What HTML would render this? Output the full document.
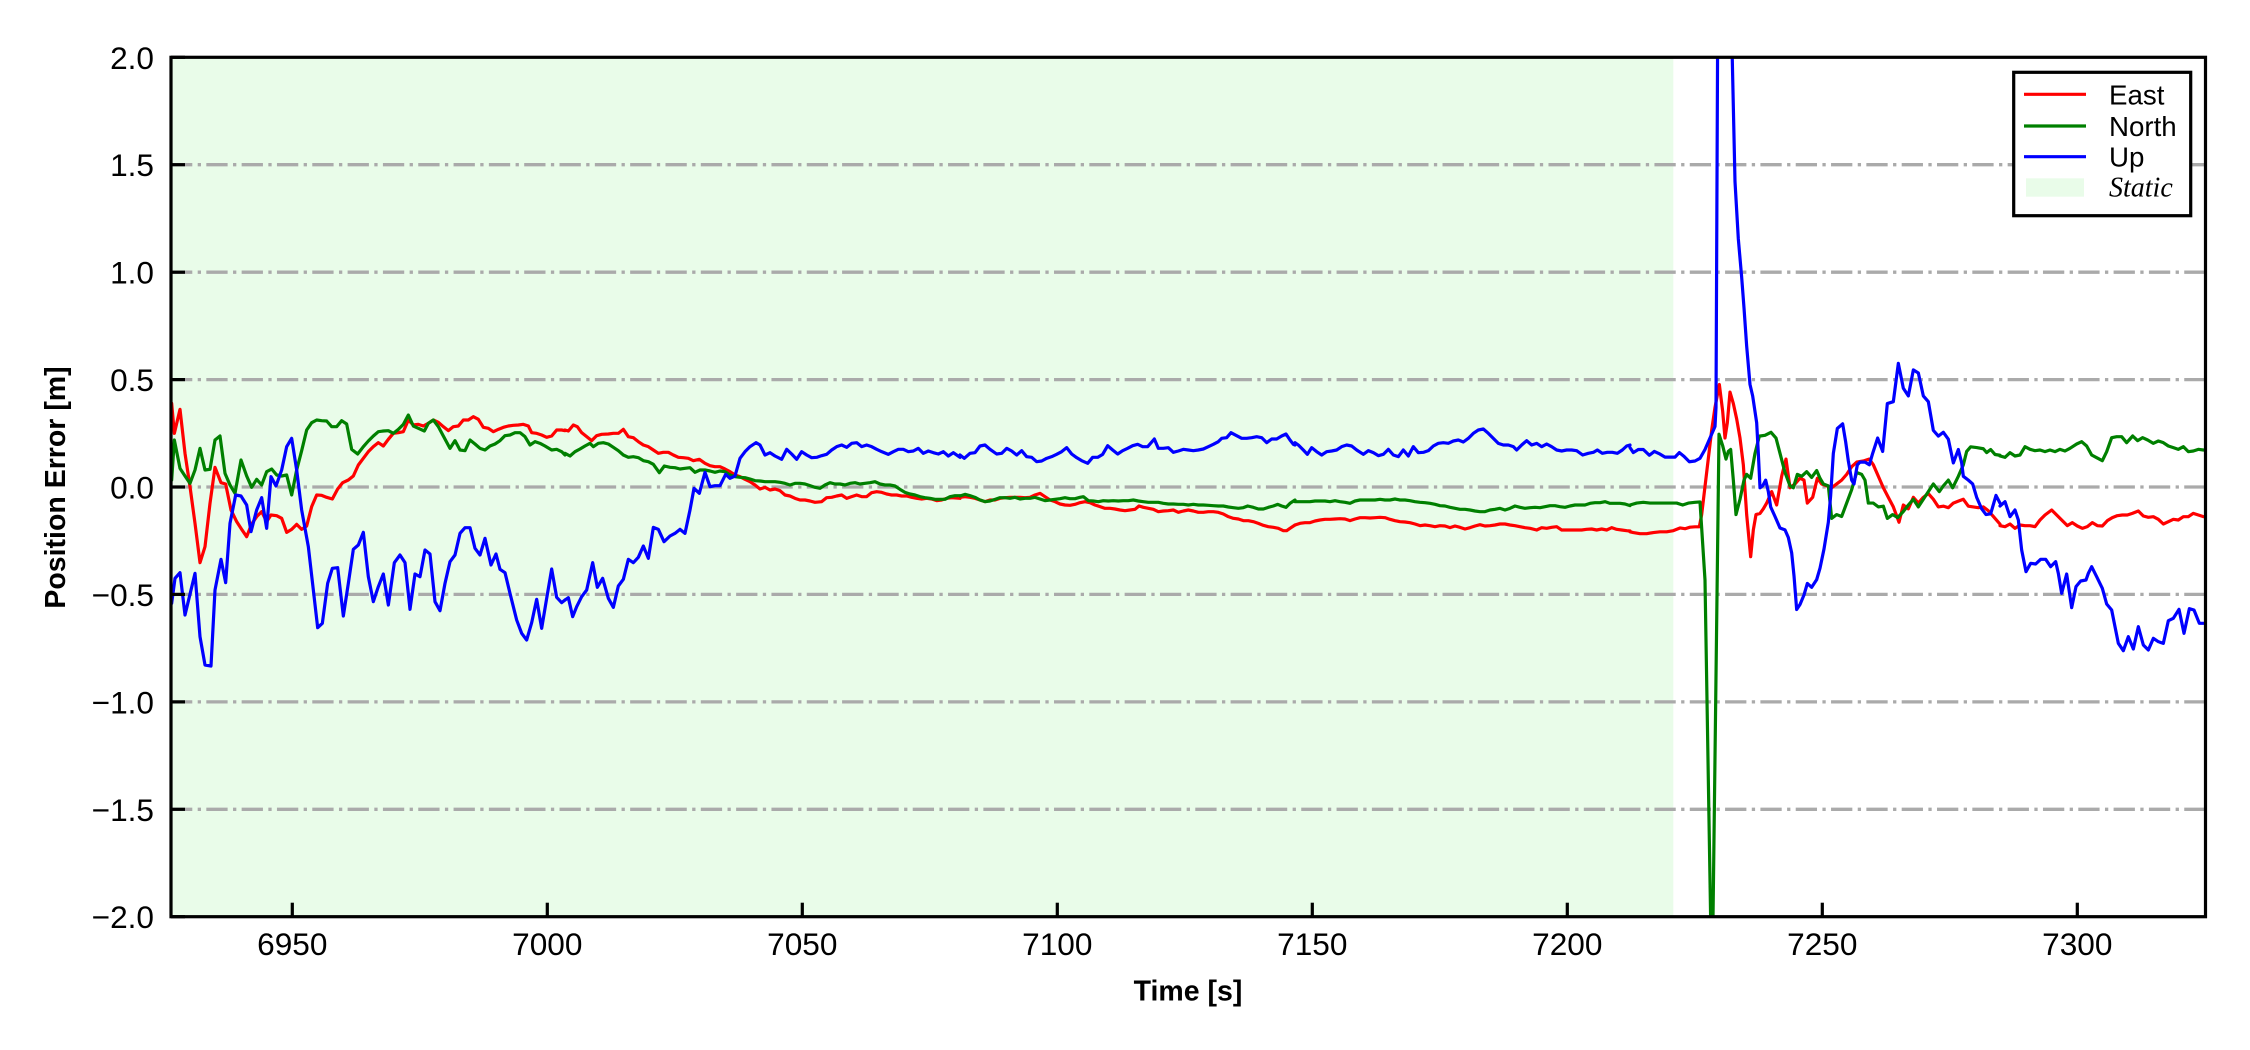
<!DOCTYPE html>
<html>
<head>
<meta charset="utf-8">
<style>
  html, body { margin: 0; padding: 0; background: #ffffff; }
  svg { display: block; }
  .tl { font-family: "Liberation Sans", "DejaVu Sans", sans-serif; font-size: 31.6px; fill: #000; }
  .lab { font-family: "Liberation Sans", "DejaVu Sans", sans-serif; font-size: 28.5px; font-weight: bold; fill: #000; }
  .leg { font-family: "Liberation Sans", "DejaVu Sans", sans-serif; font-size: 27.7px; fill: #000; }
  .legs { font-family: "Liberation Serif", "DejaVu Serif", serif; font-style: italic; font-size: 28px; fill: #000; }
  .r { fill: none; stroke: #ff0000; stroke-width: 3.2; stroke-linejoin: round; stroke-linecap: round; }
  .g { fill: none; stroke: #008000; stroke-width: 3.2; stroke-linejoin: round; stroke-linecap: round; }
  .b { fill: none; stroke: #0000ff; stroke-width: 3.2; stroke-linejoin: round; stroke-linecap: round; }
</style>
</head>
<body>
<svg width="2250" height="1050" viewBox="0 0 2250 1050" xmlns="http://www.w3.org/2000/svg">
  <defs>
    <clipPath id="ax">
      <rect x="171" y="57.3" width="2034.5" height="859.4"/>
    </clipPath>
  </defs>
  <rect x="0" y="0" width="2250" height="1050" fill="#ffffff"/>

  <!-- static region -->
  <rect x="171" y="57.3" width="1502.3" height="859.4" fill="#e9fce9"/>

  <!-- grid lines -->
  <g stroke="#aaaaaa" stroke-width="3.3" stroke-dasharray="21.3 5.4 3.3 5.32" fill="none">
    <line x1="171" y1="164.7" x2="2205.5" y2="164.7"/>
    <line x1="171" y1="272.2" x2="2205.5" y2="272.2"/>
    <line x1="171" y1="379.6" x2="2205.5" y2="379.6"/>
    <line x1="171" y1="487.0" x2="2205.5" y2="487.0"/>
    <line x1="171" y1="594.4" x2="2205.5" y2="594.4"/>
    <line x1="171" y1="701.9" x2="2205.5" y2="701.9"/>
    <line x1="171" y1="809.3" x2="2205.5" y2="809.3"/>
  </g>

  <g clip-path="url(#ax)">
    <!-- Segment 1 : x 165..565 -->
    <g transform="translate(165,370) scale(0.333333)">
      <polyline class="r" vector-effect="non-scaling-stroke" points="20,100 28,190 45,118 60,250 75,350 90,460 105,578 120,530 135,400 150,292 168,338 182,342 198,420 215,455 230,478 245,500 260,462 275,440 290,425 305,455 318,435 335,437 350,445 365,487 380,478 395,463 410,478 425,468 440,410 455,375 470,376 485,382 502,387 518,357 533,338 550,330 565,318 580,285 595,265 610,245 625,230 640,218 655,228 670,208 685,190 700,188 715,185 730,150 745,165 760,163 775,168 790,160 805,150 820,157 835,170 850,182 865,170 880,168 895,150 910,150 925,140 940,148 955,172 970,175 985,185 1000,178 1015,172 1030,168 1045,166 1060,165 1075,163 1090,168 1100,188 1115,190 1130,195 1145,202 1160,198 1175,180 1190,180 1200,182"/>
      <polyline class="g" vector-effect="non-scaling-stroke" points="20,330 28,210 45,295 60,318 75,340 90,300 105,235 120,300 135,298 150,210 165,198 180,310 195,345 210,370 228,270 245,318 260,352 275,328 290,345 305,305 320,297 335,315 350,318 365,315 380,375 395,300 410,242 425,180 440,158 455,150 470,152 485,153 500,170 515,170 530,152 545,162 560,238 578,252 595,230 610,213 625,198 640,185 655,183 670,182 685,190 700,178 715,163 730,135 745,168 760,175 778,183 790,160 805,150 820,170 835,198 855,235 870,212 885,240 900,242 915,210 930,222 945,235 960,240 975,228 990,222 1005,212 1020,197 1035,195 1050,188 1065,188 1080,200 1095,225 1110,215 1125,220 1140,228 1160,240 1175,238 1190,245 1200,255"/>
      <polyline class="b" vector-effect="non-scaling-stroke" points="20,700 30,625 45,608 60,735 90,610 105,800 120,885 138,888 150,660 168,568 182,638 195,460 212,375 228,378 245,405 258,485 275,420 290,383 305,475 318,320 333,348 350,300 365,230 380,205 395,300 410,420 430,530 445,660 458,773 472,760 488,640 502,595 518,593 535,738 550,640 565,538 580,525 595,487 610,620 625,695 640,650 655,612 670,705 688,578 705,555 720,578 735,718 750,612 765,620 780,540 795,552 810,695 825,722 840,640 855,575 870,555 885,490 900,473 915,473 930,535 945,555 960,505 978,585 993,552 1005,598 1020,608 1035,670 1055,750 1070,790 1085,810 1100,758 1115,688 1130,775 1145,685 1160,597 1175,682 1190,698 1200,690"/>
    </g>

    <!-- Segment 2 : x 565..960 -->
    <g transform="translate(560,370) scale(0.333333)">
      <polyline class="r" vector-effect="non-scaling-stroke" points="15,180 25,183 40,165 52,170 65,188 80,200 95,212 110,197 125,193 145,192 160,190 175,190 190,178 205,200 220,203 235,215 250,225 265,230 280,240 295,250 310,247 325,247 340,255 355,262 370,263 385,265 400,272 418,268 435,280 450,287 465,290 480,290 495,297 510,305 525,315 540,320 555,328 570,335 585,345 600,357 615,352 630,360 645,357 660,362 675,375 690,378 705,385 720,390 735,390 750,393 765,397 785,395 800,383 815,382 830,378 845,375 860,385 875,380 890,375 905,380 920,380 935,368 950,365 965,367 980,372 995,375 1010,375 1025,378 1040,378 1055,382 1070,385 1085,387 1100,385 1115,387 1130,392 1145,390 1160,385 1175,383 1200,385"/>
      <polyline class="g" vector-effect="non-scaling-stroke" points="15,250 30,258 45,245 60,237 75,228 90,220 100,230 115,220 130,218 145,222 160,232 175,242 190,255 205,262 220,260 235,263 250,272 265,275 280,283 298,308 313,288 330,292 345,293 360,297 375,295 390,293 405,307 420,300 435,300 450,303 465,307 480,303 495,305 510,315 525,320 540,322 555,323 570,327 585,332 600,333 615,335 630,335 645,335 660,337 675,340 690,345 705,340 720,340 735,342 750,347 765,352 780,355 795,345 810,338 825,342 840,342 855,345 870,340 885,338 900,342 915,340 930,338 945,335 960,342 975,345 990,345 1005,348 1020,358 1035,367 1050,372 1065,375 1080,380 1095,383 1110,385 1125,388 1140,388 1155,388 1170,380 1185,377 1200,377"/>
      <polyline class="b" vector-effect="non-scaling-stroke" points="15,690 25,683 38,740 50,710 65,680 80,660 98,578 112,652 128,625 145,685 160,712 175,648 190,628 205,568 220,578 235,562 250,528 265,565 280,472 295,478 312,515 330,498 345,490 360,478 375,490 390,420 402,355 418,370 435,307 450,350 465,347 480,347 497,313 510,325 525,318 540,265 555,245 570,230 588,218 600,225 615,255 630,248 645,258 665,268 680,238 695,252 710,268 725,245 740,255 755,263 770,262 785,257 800,253 815,240 830,230 845,225 860,232 875,220 890,218 905,230 920,225 935,230 950,238 965,245 985,253 1000,245 1015,238 1030,238 1045,245 1060,243 1075,235 1090,250 1105,243 1120,248 1135,252 1150,245 1165,258 1180,248 1200,262"/>
    </g>

    <!-- Segment 3 : x 960..1295 -->
    <g transform="translate(955,400) scale(0.333333)">
      <polyline class="r" vector-effect="non-scaling-stroke" points="15,292 30,290 45,292 60,295 75,300 90,305 105,300 120,300 135,295 150,293 165,292 180,292 195,292 210,293 225,292 240,285 255,280 270,290 285,300 300,305 315,312 330,315 345,316 360,313 375,308 390,305 405,308 420,315 435,320 450,325 465,325 480,327 495,330 510,332 525,330 540,328 552,318 565,322 580,325 595,328 610,335 625,333 640,332 655,330 670,337 685,333 700,330 715,333 730,337 745,337 760,335 775,335 790,337 805,342 820,350 835,355 850,357 865,362 880,362 895,365 910,370 925,376 940,380 955,382 970,385 985,392 995,392 1005,385 1020,375"/>
      <polyline class="g" vector-effect="non-scaling-stroke" points="15,288 30,283 45,287 60,292 75,300 90,305 105,303 120,298 135,293 150,293 165,295 180,292 195,297 210,295 225,295 240,292 255,297 270,302 285,300 300,298 315,296 330,293 345,296 360,296 375,292 385,290 400,302 415,303 430,305 445,302 460,303 475,302 490,303 505,302 520,302 535,300 550,303 565,305 580,307 595,307 610,307 625,310 640,312 655,312 670,313 685,313 700,315 715,313 730,315 745,315 760,316 775,317 790,318 805,318 820,321 835,323 850,325 865,323 878,318 895,322 910,327 925,327 940,322 955,318 968,313 980,318 993,322 1005,310 1020,300"/>
      <polyline class="b" vector-effect="non-scaling-stroke" points="15,165 28,175 45,160 60,158 75,138 90,135 105,148 125,162 140,160 155,145 170,153 185,165 200,152 215,170 230,172 245,185 260,183 275,175 290,170 305,163 320,155 335,143 350,162 365,173 380,182 398,190 413,172 428,172 443,163 458,137 473,150 488,162 503,152 518,145 533,137 548,133 563,140 578,140 598,117 610,145 625,145 640,143 655,157 670,153 685,148 700,150 715,152 730,150 745,147 760,140 775,133 790,125 800,115 815,113 828,98 845,107 860,115 875,115 890,113 905,110 920,113 935,128 950,117 965,117 980,108 993,102 1005,120 1015,133 1020,135"/>
    </g>

    <!-- Segment 4 : x 1295..1630 -->
    <g transform="translate(1290,400) scale(0.333333)">
      <polyline class="r" vector-effect="non-scaling-stroke" points="15,375 30,370 45,368 60,368 75,363 90,360 105,358 120,358 135,357 150,356 165,357 180,362 195,357 210,353 225,353 240,354 255,353 270,352 285,353 300,358 315,362 330,365 345,366 360,368 375,372 390,377 405,375 420,377 435,380 450,377 465,378 480,383 495,378 510,382 525,387 540,383 555,378 570,374 585,378 600,377 615,375 630,372 645,372 660,375 675,377 690,380 705,383 720,385 740,390 755,383 770,385 785,382 800,380 815,390 830,390 845,390 860,390 875,390 890,388 905,387 920,390 935,387 950,390 965,383 980,388 995,390 1010,392 1020,393"/>
      <polyline class="g" vector-effect="non-scaling-stroke" points="15,305 30,305 45,305 60,305 75,303 90,303 105,303 120,305 135,302 150,305 165,307 180,310 195,303 210,300 225,300 240,300 255,300 270,298 285,300 300,300 315,297 330,300 345,300 360,302 375,305 390,307 405,308 420,310 435,313 450,317 465,318 480,322 495,325 510,328 525,328 540,330 555,333 570,335 585,335 600,330 615,328 630,325 645,330 660,325 675,318 690,322 705,325 720,323 735,322 750,323 765,320 780,317 795,317 810,320 825,322 840,318 855,315 870,315 885,315 900,310 915,308 930,308 945,305 960,310 975,310 990,310 1005,312 1020,317"/>
      <polyline class="b" vector-effect="non-scaling-stroke" points="15,128 25,135 40,150 52,163 65,143 80,155 95,165 110,155 125,153 140,150 155,140 170,135 185,138 200,150 220,163 235,152 250,158 265,167 280,163 295,148 310,165 325,170 340,150 355,168 370,140 385,158 400,157 415,152 430,138 445,130 460,128 475,130 490,123 505,120 520,126 535,115 550,100 565,90 580,87 595,100 610,115 625,130 640,135 655,135 670,140 680,150 695,135 710,122 725,135 740,130 755,140 770,132 785,140 800,150 815,153 830,150 845,150 860,152 878,165 895,160 910,157 922,150 937,160 952,157 967,157 982,160 997,150 1010,138 1020,135"/>
    </g>

    <!-- Segment 5 : x 1630..2000 (non-uniform zoom scale) -->
    <g transform="translate(1600,40) scale(0.333333,0.382716)">
      <polyline class="r" vector-effect="non-scaling-stroke" points="90,1285 100,1287 120,1290 140,1290 160,1287 180,1285 200,1285 220,1282 240,1275 255,1277 270,1273 285,1272 298,1272 305,1240 320,1130 335,1020 345,960 358,900 368,970 375,1040 382,1000 390,920 400,950 410,990 420,1040 430,1110 440,1240 452,1350 460,1280 468,1240 480,1237 490,1225 500,1210 515,1180 530,1215 545,1140 558,1095 570,1170 585,1160 600,1145 612,1150 622,1210 638,1195 652,1145 665,1160 680,1165 695,1170 710,1160 725,1150 740,1135 755,1115 770,1103 790,1100 808,1095 820,1110 835,1140 850,1170 865,1195 880,1220 897,1260 910,1215 925,1225 940,1195 955,1210 970,1195 985,1185 1000,1200 1015,1220 1030,1218 1045,1222 1060,1210 1075,1205 1090,1200 1105,1218 1120,1220 1135,1222 1150,1220 1165,1230 1180,1245 1200,1265"/>
      <polyline class="g" vector-effect="non-scaling-stroke" points="90,1215 110,1210 130,1208 150,1210 170,1210 190,1210 210,1210 230,1210 248,1215 265,1210 285,1208 300,1207 315,1411 336,2508 357,1030 368,1060 378,1095 385,1075 392,1070 400,1150 408,1240 420,1200 432,1150 440,1135 452,1145 465,1080 478,1035 495,1033 513,1025 528,1040 540,1080 555,1130 570,1165 580,1170 592,1135 605,1140 620,1128 635,1143 650,1125 660,1145 670,1160 685,1165 695,1250 710,1240 725,1245 740,1210 755,1175 770,1130 785,1135 795,1150 805,1210 820,1210 835,1220 850,1218 862,1250 878,1240 893,1248 910,1232 925,1215 940,1200 955,1220 970,1200 985,1180 1000,1160 1018,1180 1030,1165 1045,1150 1058,1170 1075,1140 1090,1110 1100,1075 1112,1063 1130,1065 1150,1068 1160,1078 1172,1070 1185,1083 1200,1085"/>
      <polyline class="b" vector-effect="non-scaling-stroke" points="90,1065 100,1078 115,1070 130,1070 148,1085 163,1075 180,1082 195,1090 210,1090 225,1090 238,1078 252,1088 268,1102 285,1100 300,1093 315,1070 330,1040 345,1010 348,960 363,-2000 378,-900 393,-100 405,370 415,520 425,620 432,700 440,800 450,900 458,930 470,1000 475,1080 480,1170 488,1165 497,1150 505,1180 512,1220 525,1245 540,1275 555,1280 565,1300 575,1340 582,1400 590,1488 600,1475 612,1450 622,1420 635,1430 650,1410 660,1380 672,1330 685,1260 692,1190 700,1080 712,1015 728,1003 737,1050 745,1100 755,1150 762,1160 772,1110 780,1103 795,1103 808,1110 818,1080 833,1040 848,1075 862,950 880,945 895,845 910,910 925,930 940,862 955,870 970,930 985,945 1000,1020 1015,1035 1030,1025 1045,1043 1060,1105 1075,1070 1085,1105 1090,1140 1105,1150 1118,1160 1130,1195 1145,1225 1158,1240 1172,1238 1188,1190 1200,1210"/>
    </g>

    <!-- Segment 6 : x 2000..2205 -->
    <g transform="translate(1990,380) scale(0.333333)">
      <polyline class="r" vector-effect="non-scaling-stroke" points="30,437 45,440 60,432 75,445 90,435 105,437 120,437 135,440 150,420 165,405 185,390 200,405 215,420 232,437 247,428 262,438 277,445 292,440 307,428 322,437 337,438 352,422 367,413 382,407 397,405 412,405 427,400 445,393 460,408 475,412 490,410 505,418 520,432 535,425 550,418 565,420 580,410 595,410 610,400 625,405 640,410 660,410"/>
      <polyline class="g" vector-effect="non-scaling-stroke" points="30,228 45,232 60,218 75,228 90,225 105,200 120,208 135,212 150,210 165,215 180,210 195,215 210,208 225,213 240,205 260,192 275,185 290,198 305,225 320,233 337,242 350,215 365,173 380,170 395,170 410,188 428,168 443,182 458,173 473,180 490,190 505,183 520,188 535,198 550,203 565,208 580,200 595,215 610,213 625,208 640,210 660,210"/>
      <polyline class="b" vector-effect="non-scaling-stroke" points="30,378 45,365 60,410 75,390 85,420 95,510 108,575 122,550 137,552 152,538 167,538 182,560 197,545 205,580 215,640 230,582 245,683 258,620 272,603 288,600 295,580 305,560 320,590 337,625 350,672 365,690 375,740 385,790 400,812 415,770 430,807 445,740 460,795 475,810 490,775 505,785 520,790 535,722 550,715 567,688 582,760 598,686 612,690 628,730 640,730 660,730"/>
    </g>
  </g>

  <!-- axes frame -->
  <rect x="171" y="57.3" width="2034.5" height="859.4" fill="none" stroke="#000" stroke-width="3.2"/>

  <!-- y ticks -->
  <g stroke="#000" stroke-width="3.2">
    <line x1="171" y1="57.3" x2="185" y2="57.3"/>
    <line x1="171" y1="164.7" x2="185" y2="164.7"/>
    <line x1="171" y1="272.2" x2="185" y2="272.2"/>
    <line x1="171" y1="379.6" x2="185" y2="379.6"/>
    <line x1="171" y1="487.0" x2="185" y2="487.0"/>
    <line x1="171" y1="594.4" x2="185" y2="594.4"/>
    <line x1="171" y1="701.9" x2="185" y2="701.9"/>
    <line x1="171" y1="809.3" x2="185" y2="809.3"/>
    <line x1="171" y1="916.7" x2="185" y2="916.7"/>
  </g>
  <!-- x ticks -->
  <g stroke="#000" stroke-width="3.2">
    <line x1="292.3" y1="916.7" x2="292.3" y2="902.7"/>
    <line x1="547.3" y1="916.7" x2="547.3" y2="902.7"/>
    <line x1="802.3" y1="916.7" x2="802.3" y2="902.7"/>
    <line x1="1057.3" y1="916.7" x2="1057.3" y2="902.7"/>
    <line x1="1312.3" y1="916.7" x2="1312.3" y2="902.7"/>
    <line x1="1567.3" y1="916.7" x2="1567.3" y2="902.7"/>
    <line x1="1822.3" y1="916.7" x2="1822.3" y2="902.7"/>
    <line x1="2077.3" y1="916.7" x2="2077.3" y2="902.7"/>
  </g>

  <!-- y tick labels -->
  <g class="tl" text-anchor="end">
    <text x="154" y="68.8">2.0</text>
    <text x="154" y="176.2">1.5</text>
    <text x="154" y="283.7">1.0</text>
    <text x="154" y="391.1">0.5</text>
    <text x="154" y="498.5">0.0</text>
    <text x="154" y="605.9">−0.5</text>
    <text x="154" y="713.4">−1.0</text>
    <text x="154" y="820.8">−1.5</text>
    <text x="154" y="928.2">−2.0</text>
  </g>
  <!-- x tick labels -->
  <g class="tl" text-anchor="middle">
    <text x="292.3" y="955">6950</text>
    <text x="547.3" y="955">7000</text>
    <text x="802.3" y="955">7050</text>
    <text x="1057.3" y="955">7100</text>
    <text x="1312.3" y="955">7150</text>
    <text x="1567.3" y="955">7200</text>
    <text x="1822.3" y="955">7250</text>
    <text x="2077.3" y="955">7300</text>
  </g>

  <!-- axis labels -->
  <text class="lab" x="1188" y="1000.5" text-anchor="middle">Time [s]</text>
  <text class="lab" text-anchor="middle" transform="translate(65,487.5) rotate(-90)">Position Error [m]</text>

  <!-- legend -->
  <rect x="2013.7" y="72.3" width="177" height="143.4" fill="#ffffff" stroke="#000" stroke-width="3.2"/>
  <line x1="2024" y1="94.3" x2="2086" y2="94.3" stroke="#ff0000" stroke-width="3.2"/>
  <line x1="2024" y1="126" x2="2086" y2="126" stroke="#008000" stroke-width="3.2"/>
  <line x1="2024" y1="156.7" x2="2086" y2="156.7" stroke="#0000ff" stroke-width="3.2"/>
  <rect x="2026" y="178.3" width="58" height="18.4" fill="#e9fce9"/>
  <text class="leg" x="2109" y="104.3">East</text>
  <text class="leg" x="2109" y="136">North</text>
  <text class="leg" x="2109" y="166.5">Up</text>
  <text class="legs" x="2109" y="196.7">Static</text>
</svg>
</body>
</html>
